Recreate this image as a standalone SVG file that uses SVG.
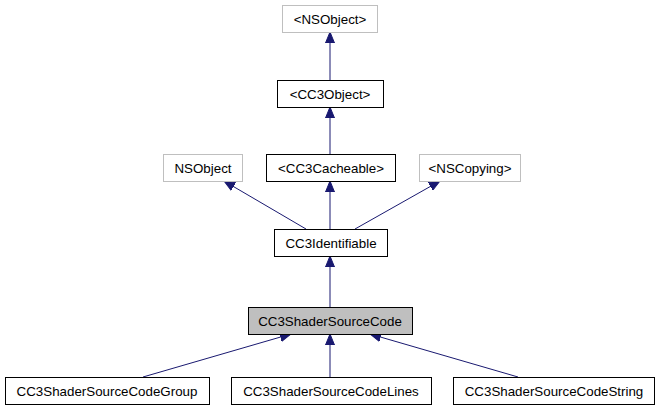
<svg xmlns="http://www.w3.org/2000/svg" width="659" height="411" viewBox="0 0 659 411">
<style>
.n rect{fill:#fff;stroke:#000;stroke-width:1}
.n.g rect{stroke:#bfbfbf}
.n.cur rect{fill:#bfbfbf}
.n text{font-family:"Liberation Sans",Arial,sans-serif;font-size:13.33px;text-anchor:middle;fill:#000}
.e path{fill:none;stroke:#191970;stroke-width:1;marker-end:url(#ah)}
</style>
<defs>
<marker id="ah" markerUnits="userSpaceOnUse" markerWidth="11" markerHeight="10" refX="11" refY="5" orient="auto">
<path d="M0,0.5 L11,5 L0,9.5 z" fill="#191970" stroke="#191970" stroke-width="1"/>
</marker>
</defs>
<rect width="659" height="411" fill="#fff"/>
<g id="connectors" class="e">
<path d="M330,80 L330,32"/>
<path d="M330,154 L330,107"/>
<path d="M330,229 L330,181"/>
<path d="M306,229 L224,181"/>
<path d="M355,229 L440,181"/>
<path d="M330,307 L330,256"/>
<path d="M143,377 L291,334"/>
<path d="M330,377 L330,334"/>
<path d="M518,377 L370,334"/>
</g>
<g id="NSObjectProtocol" class="n g"><rect x="282.5" y="5.5" width="95" height="27"/><text x="330" y="23.5">&lt;NSObject&gt;</text></g>
<g id="CC3Object" class="n"><rect x="277.5" y="80.5" width="106" height="27"/><text x="330" y="98.5">&lt;CC3Object&gt;</text></g>
<g id="NSObject" class="n g"><rect x="163.5" y="154.5" width="79" height="27"/><text x="203" y="172.5">NSObject</text></g>
<g id="CC3Cacheable" class="n"><rect x="266.5" y="154.5" width="129" height="27"/><text x="331" y="172.5">&lt;CC3Cacheable&gt;</text></g>
<g id="NSCopying" class="n g"><rect x="419.5" y="154.5" width="101" height="27"/><text x="470" y="172.5">&lt;NSCopying&gt;</text></g>
<g id="CC3Identifiable" class="n"><rect x="274.5" y="229.5" width="113" height="27"/><text x="331" y="247.5">CC3Identifiable</text></g>
<g id="CC3ShaderSourceCode" class="n cur"><rect x="248.5" y="307.5" width="164" height="27"/><text x="330" y="325.5">CC3ShaderSourceCode</text></g>
<g id="CC3ShaderSourceCodeGroup" class="n"><rect x="5.5" y="377.5" width="204" height="27"/><text x="107" y="395.5">CC3ShaderSourceCodeGroup</text></g>
<g id="CC3ShaderSourceCodeLines" class="n"><rect x="231.5" y="377.5" width="200" height="27"/><text x="331" y="395.5">CC3ShaderSourceCodeLines</text></g>
<g id="CC3ShaderSourceCodeString" class="n"><rect x="453.5" y="377.5" width="201" height="27"/><text x="554" y="395.5">CC3ShaderSourceCodeString</text></g>
</svg>
